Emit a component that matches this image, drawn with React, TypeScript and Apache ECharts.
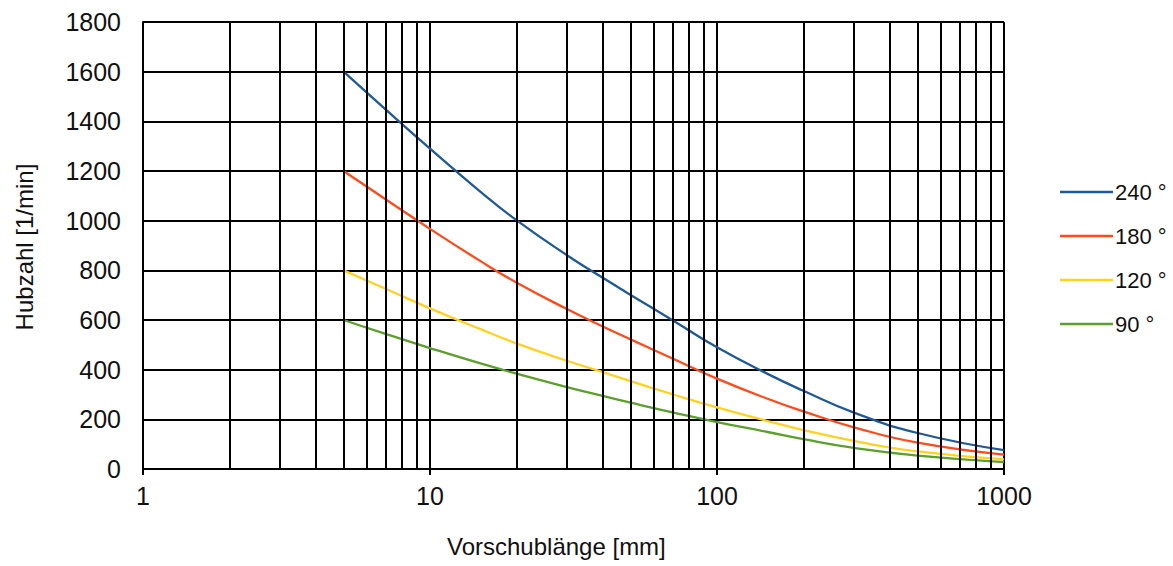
import React, { useEffect, useRef } from "react";
import * as echarts from "echarts";

const xValues = [5, 7, 10, 15, 20, 30, 40, 50, 70, 100, 150, 200, 300, 500, 1000];
const s240 = [1600, 1448, 1290, 1116, 1002, 861, 770, 701, 599, 490, 383, 315, 227, 145, 76];
const s180 = [1200, 1086, 967, 837, 751, 644, 574, 522, 445, 364, 283, 232, 168, 106, 58];
const s120 = [800, 726, 647, 563, 506, 436, 390, 354, 301, 248, 193, 157, 113, 71, 39];
const s90 = [600, 544, 487, 425, 384, 330, 294, 267, 228, 189, 149, 120, 85, 54, 28];
const seriesNames = ["240 °", "180 °", "120 °", "90 °"];
const seriesColors = ["#1F5A96", "#FF4A1A", "#FFD21F", "#5CA02C"];
const minorGridX = [2, 3, 4, 5, 6, 7, 8, 9, 20, 30, 40, 50, 60, 70, 80, 90, 200, 300, 400, 500, 600, 700, 800, 900];
const yMin = 0;
const yMax = 1800;
const yInterval = 200;

const FONT = "'Liberation Sans', Arial, sans-serif";
const TXT = "#111";

export default function App() {
  const ref = useRef<HTMLDivElement>(null);
  useEffect(() => {
    if (!ref.current) return;
    const chart = echarts.init(ref.current, undefined, { renderer: "svg" });
    const all = [s240, s180, s120, s90];
    const curves = all.map((vals, i) => ({
      name: seriesNames[i],
      type: "line",
      smooth: 0.5,
      showSymbol: false,
      symbol: "none",
      z: 3,
      lineStyle: { color: seriesColors[i], width: 2.3 },
      itemStyle: { color: seriesColors[i] },
      data: xValues.map((x, j) => [x, vals[j]]),
    }));
    chart.setOption({
      animation: false,
      backgroundColor: "#fff",
      textStyle: { fontFamily: FONT },
      grid: { left: 143, right: 169, top: 22, bottom: 97 },
      xAxis: {
        type: "log",
        logBase: 10,
        min: 1,
        max: 1000,
        axisLine: { show: true, lineStyle: { color: "#000", width: 2 } },
        axisTick: { show: true, length: 6, lineStyle: { color: "#000", width: 2 } },
        axisLabel: {
          color: TXT,
          fontSize: 25,
          margin: 14,
          fontFamily: FONT,
          formatter: (v: number) => String(v),
        },
        splitLine: { show: true, lineStyle: { color: "#000", width: 2 } },
        minorTick: { show: false },
      },
      yAxis: {
        type: "value",
        min: yMin,
        max: yMax,
        interval: yInterval,
        axisLine: { show: true, lineStyle: { color: "#000", width: 2 } },
        axisTick: { show: false },
        axisLabel: {
          color: TXT,
          fontSize: 25,
          margin: 22,
          fontFamily: FONT,
          formatter: (v: number) => String(v),
        },
        splitLine: { show: true, lineStyle: { color: "#000", width: 2 } },
      },
      legend: {
        orient: "vertical",
        left: 1055,
        top: 176,
        icon: "rect",
        itemWidth: 53,
        itemHeight: 2.5,
        itemGap: 22,
        data: seriesNames,
        textStyle: {
          color: TXT,
          fontSize: 22,
          lineHeight: 22,
          fontFamily: FONT,
          padding: [0, 0, 0, -3],
        },
        selectedMode: false,
      },
      graphic: [
        {
          type: "text",
          left: 447,
          top: 534,
          style: { text: "Vorschublänge [mm]", fontSize: 24, fontFamily: FONT, fill: TXT },
        },
        {
          type: "text",
          x: 24,
          y: 247,
          rotation: Math.PI / 2,
          style: {
            text: "Hubzahl [1/min]",
            fontSize: 24,
            fontFamily: FONT,
            fill: TXT,
            align: "center",
            verticalAlign: "middle",
          },
        },
      ],
      series: [
        {
          name: "grid-minor",
          type: "line",
          data: [],
          z: 1,
          silent: true,
          markLine: {
            silent: true,
            symbol: ["none", "none"],
            label: { show: false },
            lineStyle: { color: "#000", width: 2, type: "solid" },
            emphasis: { disabled: true },
            data: minorGridX.map((v) => ({ xAxis: v })),
          },
        },
        ...curves,
      ],
    });
    return () => chart.dispose();
  }, []);
  return (
    <div
      ref={ref}
      style={{ position: "fixed", left: 0, top: 0, width: 1173, height: 566 }}
    />
  );
}
